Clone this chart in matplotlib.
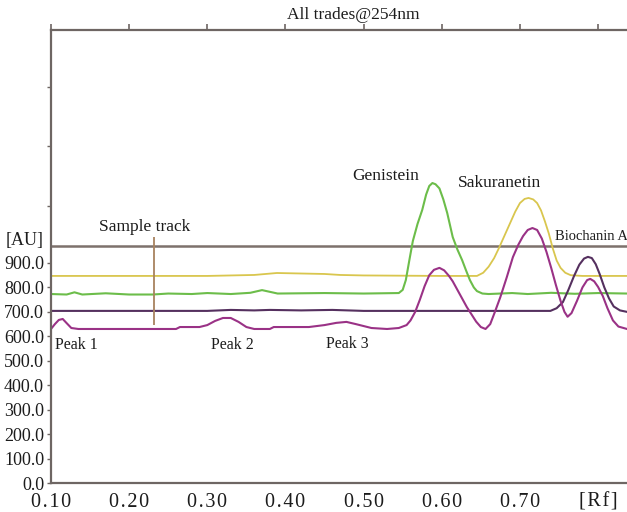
import numpy as np
import matplotlib
matplotlib.use('Agg')
import matplotlib.pyplot as plt

plt.rcParams['font.family'] = ['Liberation Serif', 'DejaVu Serif']

# Pistas del densitograma (Rf, AU)
rf_magenta = [0.100, 0.105, 0.110, 0.115, 0.120, 0.126, 0.135, 0.200, 0.260, 0.265,
              0.290, 0.300, 0.310, 0.320, 0.330, 0.340, 0.350, 0.360, 0.380, 0.385,
              0.430, 0.450, 0.465, 0.478, 0.490, 0.510, 0.530, 0.545, 0.555, 0.560,
              0.566, 0.572, 0.578, 0.584, 0.590, 0.597, 0.603, 0.609, 0.614, 0.620,
              0.626, 0.632, 0.638, 0.644, 0.650, 0.656, 0.662, 0.668, 0.675, 0.683,
              0.691, 0.698, 0.704, 0.710, 0.716, 0.722, 0.728, 0.734, 0.740, 0.746,
              0.752, 0.757, 0.761, 0.766, 0.773, 0.780, 0.786, 0.790, 0.795, 0.800,
              0.806, 0.812, 0.819, 0.826, 0.837]
au_magenta = [630, 650, 667, 671, 654, 634, 630, 630, 630, 638,
              638, 646, 663, 675, 675, 659, 638, 630, 630, 638,
              638, 646, 655, 659, 650, 634, 630, 634, 646, 665,
              700, 750, 805, 850, 872, 880, 870, 848, 825, 790,
              755, 720, 690, 660, 638, 630, 650, 700, 761, 840,
              924, 975, 1010, 1035, 1043, 1035, 1000, 945, 880, 810,
              745, 700, 680, 695, 745, 800, 830, 835, 825, 802,
              765, 715, 665, 640, 630]

rf_green = [0.100, 0.120, 0.130, 0.140, 0.170, 0.200, 0.230, 0.250, 0.280, 0.300,
            0.330, 0.355, 0.370, 0.390, 0.450, 0.500, 0.545, 0.550, 0.554, 0.559,
            0.563, 0.569, 0.575, 0.580, 0.584, 0.588, 0.592, 0.597, 0.602, 0.607,
            0.614, 0.620, 0.626, 0.631, 0.636, 0.641, 0.645, 0.652, 0.660, 0.690,
            0.710, 0.740, 0.770, 0.800, 0.837]
au_green = [773, 771, 780, 771, 776, 771, 771, 775, 773, 777,
            773, 778, 789, 775, 777, 775, 777, 790, 830, 920,
            990, 1060, 1117, 1180, 1215, 1227, 1222, 1205, 1160, 1104,
            1006, 955, 912, 870, 830, 800, 785, 775, 773, 777,
            773, 778, 774, 777, 775]

rf_yellow = [0.100, 0.200, 0.300, 0.330, 0.360, 0.389, 0.450, 0.470, 0.500, 0.600,
             0.645, 0.653, 0.660, 0.667, 0.673, 0.680, 0.687, 0.694, 0.700, 0.706,
             0.711, 0.717, 0.722, 0.727, 0.732, 0.737, 0.742, 0.747, 0.752, 0.758,
             0.765, 0.780, 0.837]
au_yellow = [847, 847, 847, 849, 851, 859, 855, 851, 849, 847,
             847, 860, 885, 920, 960, 1010, 1060, 1110, 1145, 1162,
             1166, 1160, 1145, 1115, 1070, 1020, 960, 910, 880, 860,
             850, 847, 847]

rf_purple = [0.100, 0.300, 0.330, 0.360, 0.380, 0.420, 0.460, 0.500, 0.739, 0.747,
             0.755, 0.762, 0.769, 0.776, 0.782, 0.787, 0.792, 0.797, 0.802, 0.808,
             0.814, 0.820, 0.828, 0.837]
au_purple = [704, 704, 708, 706, 708, 706, 708, 704, 704, 715,
             740, 790, 845, 893, 918, 925, 920, 895, 855, 800,
             755, 722, 706, 700]

gris_au = 970
muestra_rf = 0.2318
muestra_au = [646, 1006]

ticks_x = [0.1, 0.2, 0.3, 0.4, 0.5, 0.6, 0.7, 0.8]
etiquetas_x = ['0.10', '0.20', '0.30', '0.40', '0.50', '0.60', '0.70', '[Rf]']
ticks_y = [0, 100, 200, 300, 400, 500, 600, 700, 800, 900, 1133, 1379, 1620]
etiquetas_y = ['0.0', '100.0', '200.0', '300.0', '400.0', '500.0', '600.0',
               '700.0', '800.0', '900.0', '', '', '']

fig = plt.figure(figsize=(6.27, 5.12), dpi=100)
ax = fig.add_axes([51 / 627, 29 / 512, 576 / 627, 453 / 512])

eje = '#6e6663'
texto = '#1c1c1c'
ax.axhline(gris_au, color='#7d716c', lw=1.8)
ax.plot(rf_yellow, au_yellow, color='#d9c64e', lw=1.3)
ax.plot(rf_green, au_green, color='#6cbd4a', lw=1.5)
ax.plot(rf_purple, au_purple, color='#55305f', lw=1.5)
ax.plot(rf_magenta, au_magenta, color='#9a3286', lw=1.5)
ax.vlines(muestra_rf, muestra_au[0], muestra_au[1], color='#a8825f', lw=1.3)

ax.set_xlim(0.1, 0.837)
ax.set_ylim(0, 1853)
ax.set_xticks(ticks_x)
# letras separadas como en el original
ax.set_xticklabels(['\u200a'.join(e) for e in etiquetas_x], fontsize=14.5)
ax.set_yticks(ticks_y)
ax.set_yticklabels(etiquetas_y, fontsize=13)
ax.tick_params(axis='x', top=True, bottom=False, direction='out', length=4,
               width=1.2, color=eje, pad=3, labelcolor=texto)
ax.tick_params(axis='y', direction='out', length=3, width=1, color=eje,
               pad=2, labelcolor=texto)
for lado in ['left', 'bottom', 'top']:
    ax.spines[lado].set_color(eje)
    ax.spines[lado].set_linewidth(1.6)
ax.spines['right'].set_visible(False)

# Textos
ax.text(0.220, 1047, 'Sample track', fontsize=12.5, ha='center', va='center', color=texto)
ax.text(0.5287, 1256, 'Genistein', fontsize=12.5, ha='center', va='center', color=texto)
ax.text(0.674, 1227, 'Sakuranetin', fontsize=12.5, ha='center', va='center', color=texto)
ax.text(0.792, 1010, 'Biochanin A', fontsize=10.5, ha='center', va='center', color=texto,
        clip_on=False)
ax.text(0.132, 565, 'Peak 1', fontsize=11.5, ha='center', va='center', color=texto)
ax.text(0.3316, 565, 'Peak 2', fontsize=11.5, ha='center', va='center', color=texto)
ax.text(0.4788, 567, 'Peak 3', fontsize=11.5, ha='center', va='center', color=texto)
fig.text(353 / 627, 1 - 15 / 512, 'All trades@254nm', fontsize=12.5, ha='center',
         va='center', color=texto)
fig.text(25 / 627, 1 - 240 / 512, '[AU]', fontsize=13, ha='center', va='center',
         color=texto)

fig.savefig('out.png', dpi=100)
